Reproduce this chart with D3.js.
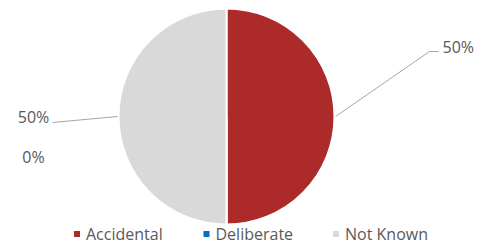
<!DOCTYPE html>
<html>
<head>
<meta charset="utf-8">
<script src="https://cdn.jsdelivr.net/npm/d3@7"></script>
<style>
  body { margin: 0; background: #fff; }
  text { font-family: "Open Sans", "Liberation Sans", sans-serif; fill: #595959; }
</style>
</head>
<body>
<svg id="chart"></svg>
<script>
const categories = ["Accidental", "Deliberate", "Not Known"];
const values = [50, 0, 50];
const percentLabels = ["50%", "0%", "50%"];
const colors = ["#AD2A2A", "#0070C0", "#D9D9D9"];

const width = 493, height = 246;
const cx = 226.5, cy = 116.5, radius = 108;

const svg = d3.select("#chart")
  .attr("width", width)
  .attr("height", height);

const g = svg.append("g")
  .attr("transform", "translate(" + cx + "," + cy + ")");

const pie = d3.pie().sort(null).value(d => d.value);
const arcs = pie(categories.map((c, i) => ({ name: c, value: values[i], label: percentLabels[i] })));

const arc = d3.arc().innerRadius(0).outerRadius(radius);

// slices
g.selectAll("path.slice")
  .data(arcs)
  .enter()
  .append("path")
  .attr("class", "slice")
  .attr("d", arc)
  .attr("fill", (d, i) => colors[i])
  .attr("stroke", "#fff")
  .attr("stroke-width", 2);

// data labels (dragged away from the pie like in the original, offsets relative to centre)
const labelOffsets = [
  { dx: 232, dy: -69, anchor: "start", line: true },
  { dx: -193, dy: 41, anchor: "middle", line: false },
  { dx: -193, dy: 1, anchor: "middle", line: true }
];

const edge = d3.arc().innerRadius(radius + 1).outerRadius(radius + 1);

arcs.forEach((d, i) => {
  const o = labelOffsets[i];
  const p = edge.centroid(d);
  if (o.line && d.value > 0) {
    let pts;
    if (o.anchor === "start") {
      pts = [p, [o.dx - 29, o.dy + 4], [o.dx - 20, o.dy + 4]];
    } else {
      pts = [p, [o.dx + 19, o.dy + 5]];
    }
    g.append("path")
      .attr("d", d3.line()(pts))
      .attr("fill", "none")
      .attr("stroke", "#A6A6A6")
      .attr("stroke-width", 1);
  }
  g.append("text")
    .attr("x", o.anchor === "start" ? o.dx - 16 : o.dx)
    .attr("y", o.dy)
    .attr("dy", "0.35em")
    .attr("text-anchor", o.anchor)
    .attr("font-size", "16px")
    .text(d.data.label);
});

// legend
const legendX = d3.scalePoint().domain(categories).range([74, 333]);
const legend = svg.append("g").attr("transform", "translate(0,234)");
const items = legend.selectAll("g")
  .data(categories)
  .enter()
  .append("g")
  .attr("transform", d => "translate(" + legendX(d) + ",0)");
items.append("rect")
  .attr("x", 0).attr("y", -3)
  .attr("width", 6).attr("height", 6)
  .attr("fill", (d, i) => colors[i]);
items.append("text")
  .attr("x", 12)
  .attr("dy", "0.35em")
  .attr("font-size", "16px")
  .text(d => d);
</script>
</body>
</html>
